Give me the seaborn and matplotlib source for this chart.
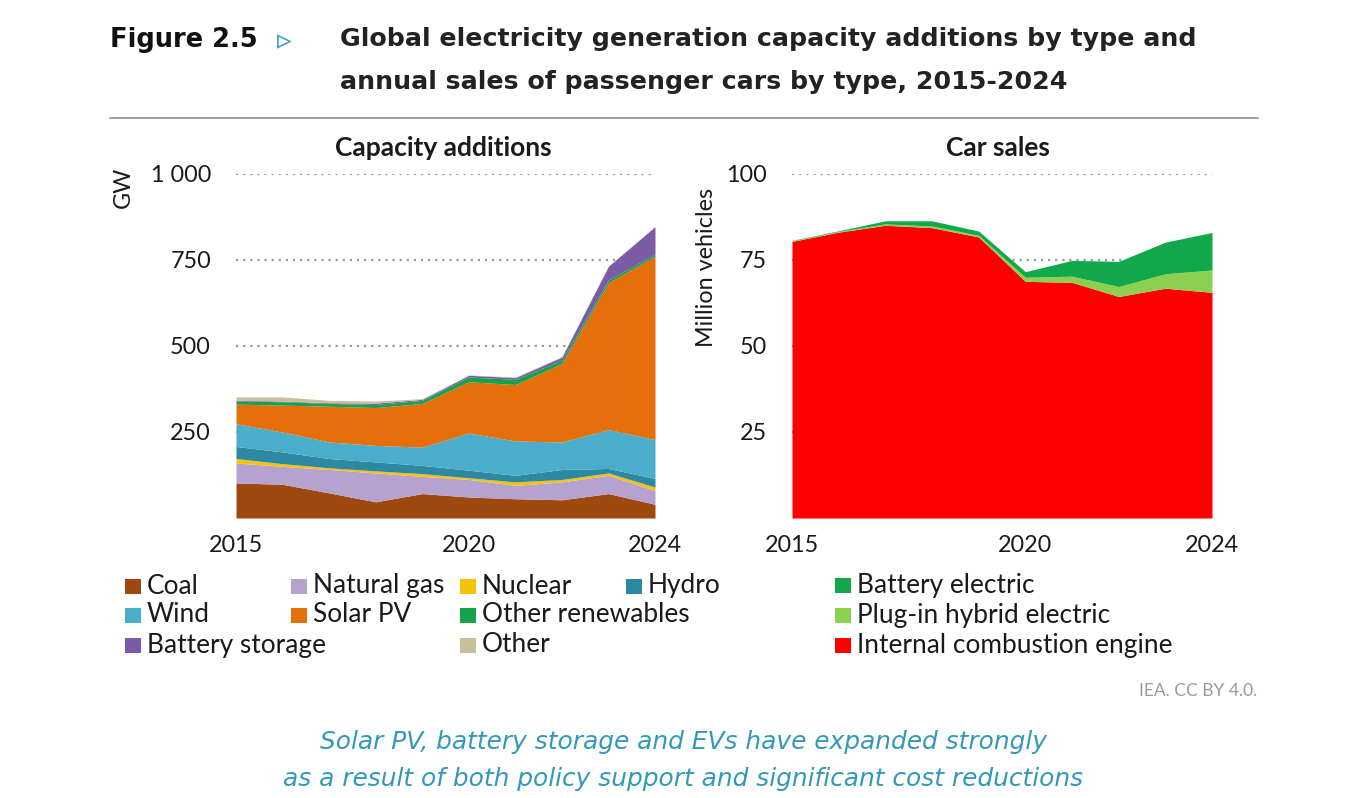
import numpy as np
import pandas as pd
import matplotlib
matplotlib.use('Agg')
import matplotlib.pyplot as plt
import matplotlib.patches as mpatches
import seaborn as sns

sns.set_style('white')
plt.rcParams['font.family'] = ['Lato', 'DejaVu Sans']

years = list(range(2015, 2025))

# capacity additions, GW
coal = [102, 98, 73, 47, 71, 61, 56, 53, 71, 40]
natural_gas = [58, 52, 68, 84, 50, 51, 39, 52, 53, 40]
nuclear = [13, 8, 5, 6, 8, 5, 10, 7, 7, 10]
hydro = [35, 34, 27, 26, 24, 22, 19, 29, 13, 25]
wind = [66, 58, 48, 48, 53, 108, 100, 80, 113, 113]
solar_pv = [57, 78, 104, 110, 127, 149, 164, 228, 427, 533]
other_renewables = [9, 10, 8, 9, 9, 14, 15, 10, 8, 6]
battery_storage = [2, 2, 2, 4, 3, 5, 5, 9, 40, 80]
other = [10, 12, 7, 6, 2, 1, 2, 2, 1, 1]

# car sales, million vehicles
ice = [80.4, 83.1, 85.1, 84.4, 81.7, 68.8, 68.5, 64.4, 66.8, 65.6]
phev = [0.2, 0.2, 0.4, 0.5, 0.5, 1.2, 1.8, 2.9, 4.2, 6.5]
bev = [0.1, 0.2, 0.9, 1.5, 1.2, 1.6, 4.6, 7.3, 9.2, 10.9]

cap = pd.DataFrame({
    'Coal': coal, 'Natural gas': natural_gas, 'Nuclear': nuclear, 'Hydro': hydro,
    'Wind': wind, 'Solar PV': solar_pv, 'Other renewables': other_renewables,
    'Battery storage': battery_storage, 'Other': other,
}, index=years)
cars = pd.DataFrame({
    'Internal combustion engine': ice, 'Plug-in hybrid electric': phev,
    'Battery electric': bev,
}, index=years)

cap_colors = {
    'Coal': '#9E4A0E', 'Natural gas': '#B6A2CE', 'Nuclear': '#F4C20D',
    'Hydro': '#2D88A2', 'Wind': '#4AADCA', 'Solar PV': '#E46F0B',
    'Other renewables': '#17A34B', 'Battery storage': '#7C5BA6', 'Other': '#C7C09B',
}
car_colors = {
    'Internal combustion engine': '#FF0000', 'Plug-in hybrid electric': '#8DCF4E',
    'Battery electric': '#10A84A',
}

W, H = 1366, 798
fig = plt.figure(figsize=(W / 100, H / 100), dpi=100)


def px_axes(x0, x1, y0, y1):
    return fig.add_axes([x0 / W, 1 - y1 / H, (x1 - x0) / W, (y1 - y0) / H])


FS = 16.8
LEG_FS = 18.9
TXT = '#1a1a1a'
ax1 = px_axes(236, 655, 174, 518)
ax2 = px_axes(792, 1212, 174, 518)

ax1.stackplot(cap.index, cap.T.values, colors=[cap_colors[c] for c in cap.columns],
              linewidth=0, zorder=2)
ax2.stackplot(cars.index, cars.T.values, colors=[car_colors[c] for c in cars.columns],
              linewidth=0, zorder=2)

for ax, ticks, labels in [
    (ax1, [250, 500, 750, 1000], ['250', '500', '750', '1 000']),
    (ax2, [25, 50, 75, 100], ['25', '50', '75', '100']),
]:
    ax.set_xlim(2015, 2024)
    ax.set_ylim(0, ticks[-1])
    ax.set_yticks(ticks)
    ax.set_yticklabels(labels)
    ax.set_xticks([2015, 2020, 2024])
    ax.set_xticklabels(['2015', '2020', '2024'])
    ax.tick_params(axis='y', length=0, pad=18, labelsize=FS, labelcolor=TXT)
    ax.tick_params(axis='x', length=0, pad=12, labelsize=FS, labelcolor=TXT)
    for t in ticks:
        ax.axhline(t, color='#9a9a9a', linestyle=(0, (1, 2.2)), linewidth=1.6, zorder=1)
    sns.despine(ax=ax, left=True, bottom=True)
    ax.set_facecolor('none')

fig.text(443 / W, 1 - 148 / H, 'Capacity additions', fontsize=19, fontweight='bold',
         ha='center', va='center', color=TXT)
fig.text(998 / W, 1 - 148 / H, 'Car sales', fontsize=19, fontweight='bold',
         ha='center', va='center', color=TXT)

fig.text(123 / W, 1 - 187 / H, 'GW', rotation=90, ha='center', va='center',
         fontsize=FS, color=TXT)
fig.text(706 / W, 1 - 267 / H, 'Million vehicles', rotation=90, ha='center',
         va='center', fontsize=FS, color=TXT)

# header
fig.text(110 / W, 1 - 40 / H, 'Figure 2.5', fontsize=18.5, fontweight='bold',
         ha='left', va='center', color='#111111', family=['DejaVu Sans'])
fig.text(277 / W, 1 - 41 / H, '\u25b9', fontsize=21, ha='left', va='center',
         color='#2E9CC0', family=['DejaVu Sans'])
fig.text(340 / W, 1 - 39 / H, 'Global electricity generation capacity additions by type and',
         fontsize=18.2, fontweight='bold', ha='left', va='center', color='#222222',
         family=['DejaVu Sans'])
fig.text(340 / W, 1 - 82 / H, 'annual sales of passenger cars by type, 2015-2024',
         fontsize=18.2, fontweight='bold', ha='left', va='center', color='#222222',
         family=['DejaVu Sans'])
fig.add_artist(plt.Line2D([110 / W, 1258 / W], [1 - 118 / H, 1 - 118 / H],
                          color='#8c8c8c', linewidth=1.2))


# legends
def legend_item(x, y, label, color):
    fig.add_artist(mpatches.Rectangle((x / W, 1 - (y + 7.5) / H), 16 / W, 15 / H,
                                      facecolor=color, edgecolor='none',
                                      transform=fig.transFigure))
    fig.text((x + 22) / W, 1 - y / H, label, fontsize=LEG_FS, ha='left', va='center',
             color=TXT)


left_slots = [
    ('Coal', 125, 586), ('Natural gas', 291, 586), ('Nuclear', 460, 586), ('Hydro', 626, 586),
    ('Wind', 125, 615), ('Solar PV', 291, 615), ('Other renewables', 460, 615),
    ('Battery storage', 125, 645), ('Other', 460, 645),
]
for name, x, y in left_slots:
    legend_item(x, y, name, cap_colors[name])

right_slots = [
    ('Battery electric', 835, 585), ('Plug-in hybrid electric', 835, 615),
    ('Internal combustion engine', 835, 645),
]
for name, x, y in right_slots:
    legend_item(x, y, name, car_colors[name])

fig.text(1257 / W, 1 - 691 / H, 'IEA. CC BY 4.0.', fontsize=12.5, ha='right',
         va='center', color='#9a9a9a')

fig.text(683 / W, 1 - 742 / H, 'Solar PV, battery storage and EVs have expanded strongly',
         fontsize=17.9, style='italic', ha='center', va='center', color='#3399B8',
         family=['DejaVu Sans'])
fig.text(683 / W, 1 - 779 / H, 'as a result of both policy support and significant cost reductions',
         fontsize=17.9, style='italic', ha='center', va='center', color='#3399B8',
         family=['DejaVu Sans'])

fig.savefig('out.png', dpi=100, facecolor='white')
